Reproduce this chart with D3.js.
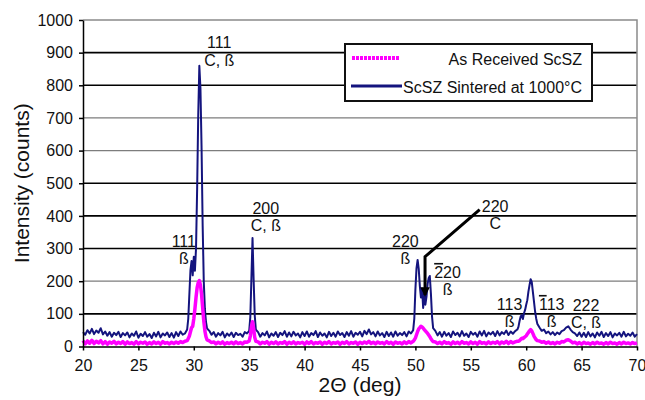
<!DOCTYPE html>
<html lang="en">
<head>
<meta charset="utf-8">
<title>XRD: ScSZ as received vs sintered</title>
<script src="https://cdn.jsdelivr.net/npm/d3@7"></script>
<style>
  body { margin: 0; background: #fff; }
  svg text { font-family: "Liberation Sans", Arial, sans-serif; fill: #111; }
  .axis .tick text { font-size: 16px; }
  .axis path, .axis line { stroke: #000; stroke-width: 1.5; }
  .gridDark { stroke: #000; stroke-width: 1.6; }
  .gridLight { stroke: #7d7d7d; stroke-width: 1.2; }
  .border { stroke: #8a8a8a; stroke-width: 1.5; fill: none; }
  .sintered { fill: none; stroke: #14147e; stroke-width: 2; stroke-linejoin: round; }
  .received { fill: none; stroke: #ff00ff; stroke-width: 3.5; stroke-linejoin: round; }
  .peak { font-size: 16px; text-anchor: middle; }
  .axisTitle { font-size: 21px; }
  .legendText { font-size: 16px; text-anchor: end; }
</style>
</head>
<body>
<script>

// 2-theta sample positions (deg)
var twoTheta = [
  20.0,20.2,20.4,20.6,20.8,21.0,21.2,21.4,21.6,21.8,
  22.0,22.2,22.4,22.6,22.8,23.0,23.2,23.4,23.6,23.8,
  24.0,24.2,24.4,24.6,24.8,25.0,25.2,25.4,25.6,25.8,
  26.0,26.2,26.4,26.6,26.8,27.0,27.2,27.4,27.6,27.8,
  28.0,28.2,28.4,28.6,28.8,29.0,
  29.2,29.4,29.5,29.6,29.7,29.8,29.9,30.0,30.1,30.2,
  30.3,30.4,30.5,30.6,30.7,30.8,30.9,31.0,31.1,31.2,
  31.4,31.6,31.8,32.0,32.2,32.4,32.6,32.8,33.0,33.2,
  33.4,33.6,33.8,34.0,34.2,34.4,34.6,34.8,
  35.0,35.1,35.2,35.3,35.4,35.5,35.6,
  35.8,36.0,36.2,36.4,36.6,36.8,37.0,37.2,37.4,37.6,
  37.8,38.0,38.2,38.4,38.6,38.8,39.0,39.2,39.4,39.6,
  39.8,40.0,40.2,40.4,40.6,40.8,41.0,41.2,41.4,41.6,
  41.8,42.0,42.2,42.4,42.6,42.8,43.0,43.2,43.4,43.6,
  43.8,44.0,44.2,44.4,44.6,44.8,45.0,45.2,45.4,45.6,
  45.8,46.0,46.2,46.4,46.6,46.8,47.0,47.2,47.4,47.6,
  47.8,48.0,48.2,48.4,48.6,48.8,49.0,49.2,49.4,49.6,
  49.8,
  49.9,50.0,50.1,50.2,50.3,50.4,50.5,50.6,50.7,50.8,
  50.9,51.0,51.1,51.2,51.3,51.4,51.5,51.6,
  51.8,52.0,52.2,52.4,52.6,52.8,53.0,53.2,53.4,53.6,
  53.8,54.0,54.2,54.4,54.6,54.8,55.0,55.2,55.4,55.6,
  55.8,56.0,56.2,56.4,56.6,56.8,57.0,57.2,57.4,57.6,
  57.8,58.0,58.2,58.4,58.6,58.8,59.0,59.2,
  59.3,59.4,59.5,59.6,59.7,59.8,59.9,60.0,60.1,60.2,
  60.3,60.4,60.5,60.6,60.7,60.8,60.9,61.0,
  61.2,61.4,61.6,61.8,62.0,62.2,62.4,62.6,62.8,63.0,
  63.2,63.4,63.6,63.8,64.0,64.2,64.4,64.6,64.8,65.0,
  65.2,65.4,65.6,65.8,66.0,66.2,66.4,66.6,66.8,67.0,
  67.2,67.4,67.6,67.8,68.0,68.2,68.4,68.6,68.8,69.0,
  69.2,69.4,69.6,69.8,70.0
];

// ScSZ sintered at 1000°C (counts)
var sintered = [
  44,36,50,40,54,38,49,42,56,37,
  46,33,44,30,42,35,45,29,41,34,
  43,28,40,33,46,27,39,32,44,30,
  38,26,42,31,45,28,40,34,43,29,
  41,27,44,32,46,36,
  40,52,85,160,235,262,218,275,232,300,
  480,710,860,790,610,370,200,115,75,55,
  48,36,44,30,41,34,45,28,40,33,
  43,29,42,35,39,30,44,40,
  48,90,210,332,205,95,52,
  44,30,41,34,46,28,40,33,44,29,
  42,35,47,30,43,31,45,34,40,28,
  44,32,46,30,41,35,47,29,43,33,
  40,28,45,32,42,30,46,35,41,29,
  44,33,47,30,42,36,45,31,48,38,
  52,37,44,31,46,34,41,29,45,32,
  43,30,46,33,41,35,44,31,46,40,
  50,
  85,175,240,265,238,185,150,178,118,165,
  128,152,192,210,216,162,92,56,
  48,34,44,30,45,33,41,29,46,35,
  42,31,47,33,40,29,45,36,42,30,
  46,34,48,31,43,37,45,32,47,34,
  44,38,49,35,46,39,47,52,
  60,78,92,96,84,102,112,128,142,168,
  188,206,198,168,138,108,86,70,
  58,48,52,41,46,37,44,35,43,38,
  47,50,58,62,52,44,40,32,43,30,
  42,29,44,31,40,28,43,33,45,29,
  41,32,44,28,40,34,42,30,45,31,
  39,33,43,30,38
];

// As received ScSZ (counts)
var asReceived = [
  18,8,17,10,19,9,16,11,18,8,
  15,7,14,10,16,8,13,9,15,7,
  14,9,12,7,15,8,13,10,14,7,
  12,8,14,9,13,7,15,10,12,8,
  13,9,14,10,15,12,
  16,18,24,32,45,58,62,85,115,150,
  180,196,202,188,160,118,78,48,30,20,
  17,12,14,8,13,9,14,7,12,9,
  13,8,14,9,12,8,14,13,
  17,32,60,76,55,28,16,
  14,8,13,10,15,7,13,9,14,8,
  12,10,15,7,13,9,14,8,12,10,
  13,7,14,9,15,8,12,10,14,7,
  13,9,15,8,12,10,14,7,13,9,
  15,8,12,10,14,7,13,9,14,10,
  16,9,13,8,14,10,12,8,15,9,
  13,7,14,10,12,8,14,9,15,11,
  16,
  20,26,36,46,54,58,62,60,56,52,
  48,44,40,35,30,24,19,15,
  14,9,13,8,15,10,12,7,14,9,
  13,8,15,10,12,8,14,9,13,7,
  15,10,12,8,14,9,13,10,15,8,
  14,10,16,9,15,11,14,16,
  16,18,22,25,24,27,30,33,38,43,
  48,52,48,40,32,26,21,18,
  17,13,15,10,14,9,12,8,13,10,
  15,14,19,21,17,11,13,8,12,7,
  13,9,11,7,12,8,13,9,11,7,
  12,8,13,9,11,7,12,8,13,9,
  11,8,12,9,11
];

var xTicks = [20,25,30,35,40,45,50,55,60,65,70];
var yTicks = [0,100,200,300,400,500,600,700,800,900,1000];
var darkGrid = [100,300,400,500,800,900];

// peak labels: [2θ, counts] of the first line's baseline
var peakLabels = [
  { x: 32.3, y: 914, lines: ["111", "C, ß"] },
  { x: 29.1, y: 305, lines: ["111", "ß"] },
  { x: 36.5, y: 406, lines: ["200", "C, ß"] },
  { x: 49.1, y: 305, lines: ["220", "ß"] },
  { x: 57.2, y: 412, lines: ["220", "C"] },
  { x: 52.9, y: 210, lines: ["220", "ß"], bar: true },
  { x: 58.5, y: 112, lines: ["113", "ß"] },
  { x: 62.3, y: 112, lines: ["113", "ß"], bar: true },
  { x: 65.4, y: 109, lines: ["222", "C, ß"] }
];

// leader arrow for the 220 C peak
var arrowPath = [[55.8, 419], [50.87, 275], [50.87, 158]];

var w = 645, h = 400;
var padL = 83, padR = 637, padT = 20, padB = 346.5;

var svg = d3.select("body").append("svg")
  .attr("width", w)
  .attr("height", h);

var xScale = d3.scaleLinear().domain([20, 70]).range([padL, padR]);
var yScale = d3.scaleLinear().domain([0, 1000]).range([padB, padT]);

// gridlines
svg.append("g")
  .selectAll("line")
  .data(yTicks.filter(function(d) { return d > 0 && d < 1000; }))
  .enter().append("line")
  .attr("class", function(d) { return darkGrid.indexOf(d) >= 0 ? "gridDark" : "gridLight"; })
  .attr("x1", padL).attr("x2", padR)
  .attr("y1", function(d) { return yScale(d); })
  .attr("y2", function(d) { return yScale(d); });

// plot border (top + right)
svg.append("path")
  .attr("class", "border")
  .attr("d", "M" + padL + "," + yScale(1000) + "H" + padR + "V" + padB);

var rows = twoTheta.map(function(t, i) {
  return { t: t, s: sintered[i], r: asReceived[i] };
});

var lineS = d3.line()
  .x(function(d) { return xScale(d.t); })
  .y(function(d) { return yScale(d.s); });

var lineR = d3.line()
  .x(function(d) { return xScale(d.t); })
  .y(function(d) { return yScale(d.r); });

svg.append("path").datum(rows).attr("class", "sintered").attr("d", lineS);
svg.append("path").datum(rows).attr("class", "received").attr("d", lineR);

// axes
var xAxis = d3.axisBottom(xScale).tickValues(xTicks).tickSize(4).tickSizeOuter(0).tickPadding(9);
var yAxis = d3.axisLeft(yScale).tickValues(yTicks).tickFormat(d3.format("d"))
  .tickSize(4).tickSizeOuter(0).tickPadding(6);

svg.append("g")
  .attr("class", "axis")
  .attr("transform", "translate(0," + padB + ")")
  .call(xAxis);

svg.append("g")
  .attr("class", "axis")
  .attr("transform", "translate(" + padL + ",0)")
  .call(yAxis);

svg.selectAll(".axis .tick text").attr("fill", "#111");

// axis titles
svg.append("text")
  .attr("class", "axisTitle")
  .attr("text-anchor", "middle")
  .attr("x", (padL + padR) / 2)
  .attr("y", 392)
  .text("2Θ (deg)");

svg.append("text")
  .attr("class", "axisTitle")
  .attr("text-anchor", "middle")
  .attr("transform", "translate(29," + ((padT + padB) / 2) + ") rotate(-90)")
  .text("Intensity (counts)");

// arrow
svg.append("defs").append("marker")
  .attr("id", "head")
  .attr("viewBox", "0 0 10 10")
  .attr("refX", 8).attr("refY", 5)
  .attr("markerWidth", 3.2).attr("markerHeight", 3.2)
  .attr("orient", "auto")
  .append("path")
  .attr("d", "M0,0L10,5L0,10Z")
  .attr("fill", "#000");

svg.append("path")
  .datum(arrowPath)
  .attr("fill", "none")
  .attr("stroke", "#000")
  .attr("stroke-width", 3)
  .attr("marker-end", "url(#head)")
  .attr("d", d3.line()
    .x(function(d) { return xScale(d[0]); })
    .y(function(d) { return yScale(d[1]); }));

// peak labels
var lab = svg.append("g").selectAll("text")
  .data(peakLabels)
  .enter().append("text")
  .attr("class", "peak")
  .attr("x", function(d) { return xScale(d.x); })
  .attr("y", function(d) { return yScale(d.y); });

lab.each(function(d) {
  var t = d3.select(this);
  var first = t.append("tspan").attr("x", xScale(d.x));
  if (d.bar) {
    first.append("tspan").style("text-decoration", "overline").text(d.lines[0].charAt(0));
    first.append("tspan").text(d.lines[0].slice(1));
  } else {
    first.text(d.lines[0]);
  }
  t.append("tspan").attr("x", xScale(d.x)).attr("dy", 17.5).text(d.lines[1]);
});

// legend
var lg = svg.append("g");
lg.append("rect")
  .attr("x", 345).attr("y", 44).attr("width", 247).attr("height", 57)
  .attr("fill", "#fff").attr("stroke", "#111").attr("stroke-width", 2);
lg.append("line")
  .attr("x1", 352).attr("x2", 399).attr("y1", 58).attr("y2", 58)
  .attr("stroke", "#ff00ff").attr("stroke-width", 4).attr("stroke-dasharray", "3,1");
lg.append("line")
  .attr("x1", 351).attr("x2", 402).attr("y1", 86).attr("y2", 86)
  .attr("stroke", "#14147e").attr("stroke-width", 3);
lg.append("text").attr("class", "legendText").attr("x", 582).attr("y", 65).text("As Received ScSZ");
lg.append("text").attr("class", "legendText").attr("x", 582).attr("y", 93).text("ScSZ Sintered at 1000°C");

</script>
</body>
</html>
